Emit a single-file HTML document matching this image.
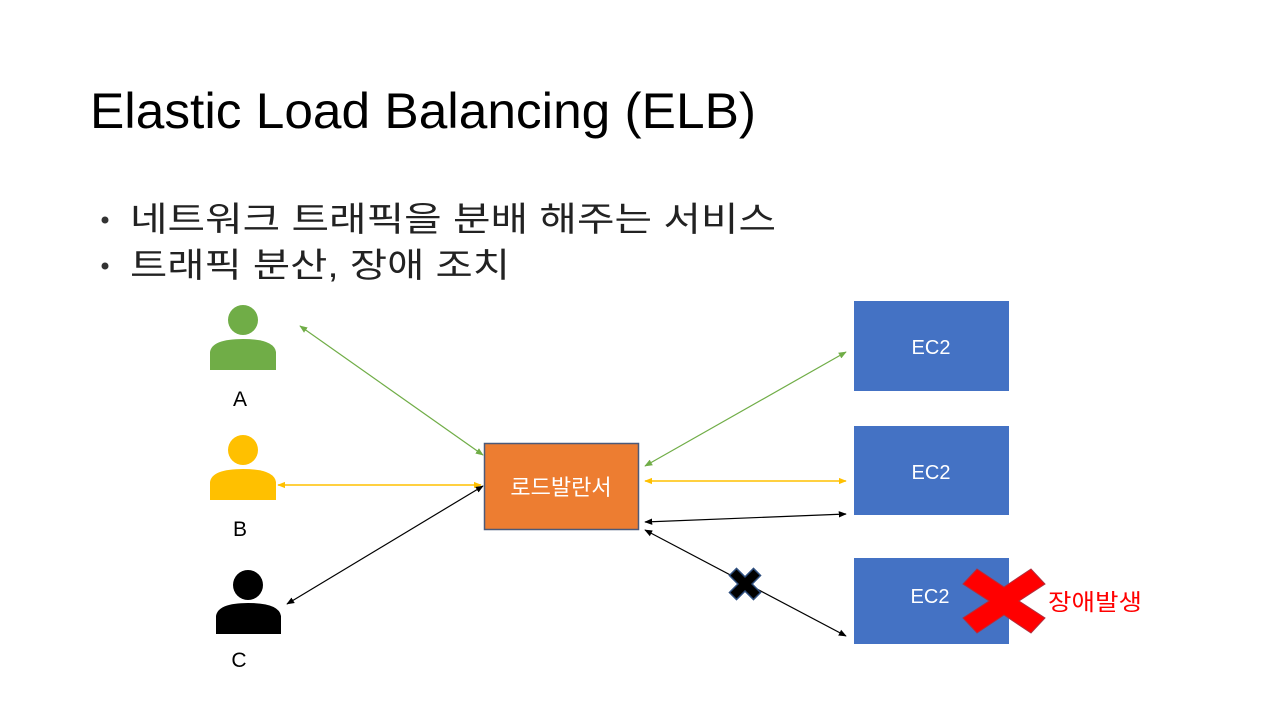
<!DOCTYPE html>
<html><head><meta charset="utf-8"><style>
html,body{margin:0;padding:0;background:#fff;width:1280px;height:720px;overflow:hidden}
text{font-family:"Liberation Sans","Noto Sans CJK KR",sans-serif}
</style></head><body>
<svg width="1280" height="720" viewBox="0 0 1280 720" xmlns="http://www.w3.org/2000/svg">
<defs>
<marker id="mg" viewBox="0 0 10 10" refX="9" refY="5" markerWidth="8" markerHeight="8" orient="auto-start-reverse" markerUnits="userSpaceOnUse"><path d="M0,1 L10,5 L0,9 z" fill="#70AD47"/></marker>
<marker id="my" viewBox="0 0 10 10" refX="9" refY="5" markerWidth="8" markerHeight="8" orient="auto-start-reverse" markerUnits="userSpaceOnUse"><path d="M0,1 L10,5 L0,9 z" fill="#FFC000"/></marker>
<marker id="mk" viewBox="0 0 10 10" refX="9" refY="5" markerWidth="8" markerHeight="8" orient="auto-start-reverse" markerUnits="userSpaceOnUse"><path d="M0,1 L10,5 L0,9 z" fill="#000"/></marker>
</defs>
<text x="90" y="128" font-size="50" fill="#000" textLength="666" lengthAdjust="spacingAndGlyphs">Elastic Load Balancing (ELB)</text>
<circle cx="105" cy="220" r="3.5" fill="#333"/>
<text x="130" y="231" font-size="34" fill="#222" textLength="646" lengthAdjust="spacingAndGlyphs">네트워크 트래픽을 분배 해주는 서비스</text>
<circle cx="105" cy="266" r="3.5" fill="#333"/>
<text x="130" y="277" font-size="34" fill="#222" textLength="380" lengthAdjust="spacingAndGlyphs">트래픽 분산, 장애 조치</text>

<g fill="#70AD47"><circle cx="243" cy="320" r="15"/><path d="M210,370 L210,352 Q212,339 243,339 Q274,339 276,352 L276,370 z"/></g>
<text x="240" y="406" font-size="21" text-anchor="middle">A</text>
<g fill="#FFC000"><circle cx="243" cy="450" r="15"/><path d="M210,500 L210,482 Q212,469 243,469 Q274,469 276,482 L276,500 z"/></g>
<text x="240" y="536" font-size="21" text-anchor="middle">B</text>
<g fill="#000"><circle cx="248" cy="585" r="15"/><path d="M216,634 L216,616 Q218,603 248,603 Q279,603 281,616 L281,634 z"/></g>
<text x="239" y="667" font-size="21" text-anchor="middle">C</text>

<rect x="484.5" y="443.5" width="154" height="86" fill="#ED7D31" stroke="#4B5A7A" stroke-width="1.5"/>
<text x="561" y="495" font-size="22" fill="#fff" text-anchor="middle">로드발란서</text>

<rect x="854" y="301" width="155" height="90" fill="#4472C4"/>
<text x="931" y="354" font-size="20" fill="#fff" text-anchor="middle">EC2</text>
<rect x="854" y="426" width="155" height="89" fill="#4472C4"/>
<text x="931" y="479" font-size="20" fill="#fff" text-anchor="middle">EC2</text>
<rect x="854" y="558" width="155" height="86" fill="#4472C4"/>
<text x="930" y="603" font-size="20" fill="#fff" text-anchor="middle">EC2</text>

<line x1="300" y1="326" x2="483" y2="455" stroke="#70AD47" stroke-width="1.2" marker-start="url(#mg)" marker-end="url(#mg)"/>
<line x1="645" y1="466" x2="846" y2="352" stroke="#70AD47" stroke-width="1.2" marker-start="url(#mg)" marker-end="url(#mg)"/>
<line x1="278" y1="485" x2="481" y2="485" stroke="#FFC000" stroke-width="1.5" marker-start="url(#my)" marker-end="url(#my)"/>
<line x1="645" y1="481" x2="846" y2="481" stroke="#FFC000" stroke-width="1.5" marker-start="url(#my)" marker-end="url(#my)"/>
<line x1="287" y1="604" x2="483" y2="486" stroke="#000" stroke-width="1.2" marker-start="url(#mk)" marker-end="url(#mk)"/>
<line x1="645" y1="522" x2="846" y2="514" stroke="#000" stroke-width="1.2" marker-start="url(#mk)" marker-end="url(#mk)"/>
<line x1="645" y1="530" x2="846" y2="636" stroke="#000" stroke-width="1.2" marker-start="url(#mk)" marker-end="url(#mk)"/>

<g transform="translate(745,584) rotate(45)"><path d="M-5,-17 H5 V-5 H17 V5 H5 V17 H-5 V5 H-17 V-5 H-5 z" fill="#000" stroke="#2F4F7F" stroke-width="1.5"/></g>
<g transform="translate(1004,600)"><path d="M-41,-16 L-27,-31 L0,-13 L27,-31 L41,-16 L15,1 L41,18 L27,33 L0,15 L-27,33 L-41,18 L-15,1 z" fill="#FF0000" stroke="#B0303F" stroke-width="1"/></g>
<text x="1048" y="610" font-size="23" fill="#FF0000" textLength="94" lengthAdjust="spacingAndGlyphs">장애발생</text>
</svg>
</body></html>
